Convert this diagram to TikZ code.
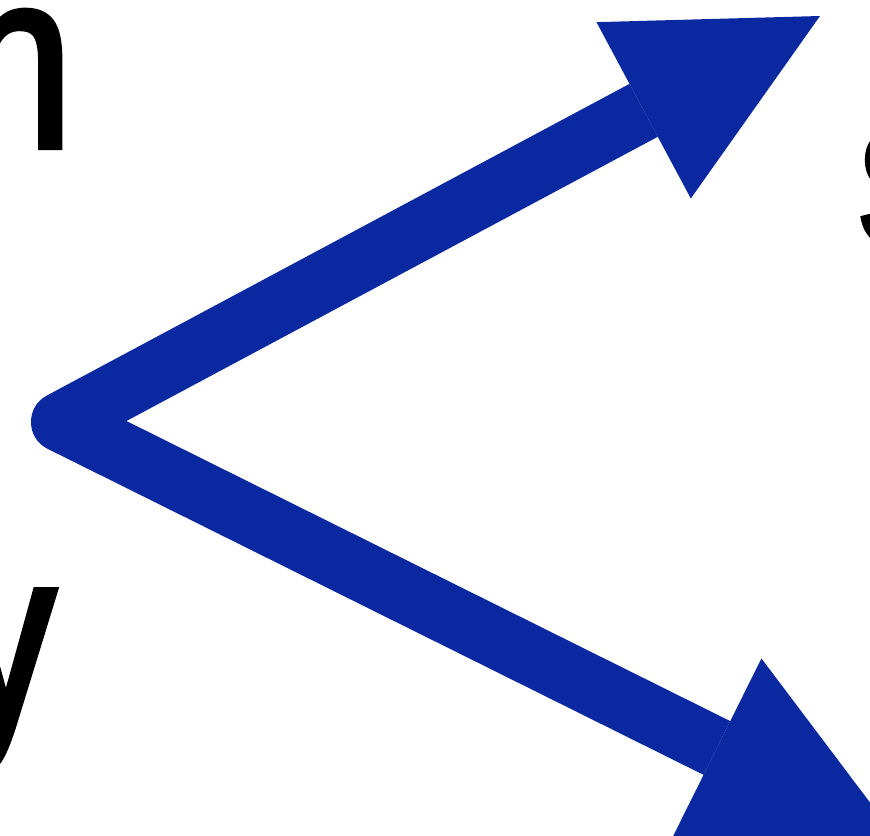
\documentclass[tikz,border=0pt]{standalone}
\usepackage{fontspec}
\setmainfont{Liberation Sans}
\newfontfamily\narrowsans[FakeStretch=0.8, FakeBold=2.5]{Liberation Sans}
\usetikzlibrary{arrows.meta, positioning}
\definecolor{forkblue}{RGB}{10,40,160}

\begin{document}
\begin{tikzpicture}[
  x=0.1mm, y=0.1mm,
  word/.style={inner sep=0pt, text=black},
  fork/.style={draw=forkblue, line width=6mm, line join=round, {Triangle[length=20mm, width=20mm, line width=0pt]}-{Triangle[length=20mm, width=20mm, line width=0pt]}}
]
  \useasboundingbox (0,0) rectangle (870,836);
  \clip (0,0) rectangle (870,836);

  \node [word, anchor=base east, font=\narrowsans\fontsize{72}{80}\selectfont] (wordn) at (73,689) {n};
  \node [word, anchor=base east, font=\narrowsans\fontsize{72}{80}\selectfont] (wordy) at (56,112) {y};
  \node [word, anchor=base west, font=\narrowsans\fontsize{47}{54}\selectfont] (wordS) at (856,591) {S};

  \coordinate (hub) at (61,414);
  \coordinate (tipUp) at (820,820);
  \coordinate (tipDown) at (896,-1);

  \draw [fork] (tipUp) -- (hub) -- (tipDown);
\end{tikzpicture}
\end{document}
